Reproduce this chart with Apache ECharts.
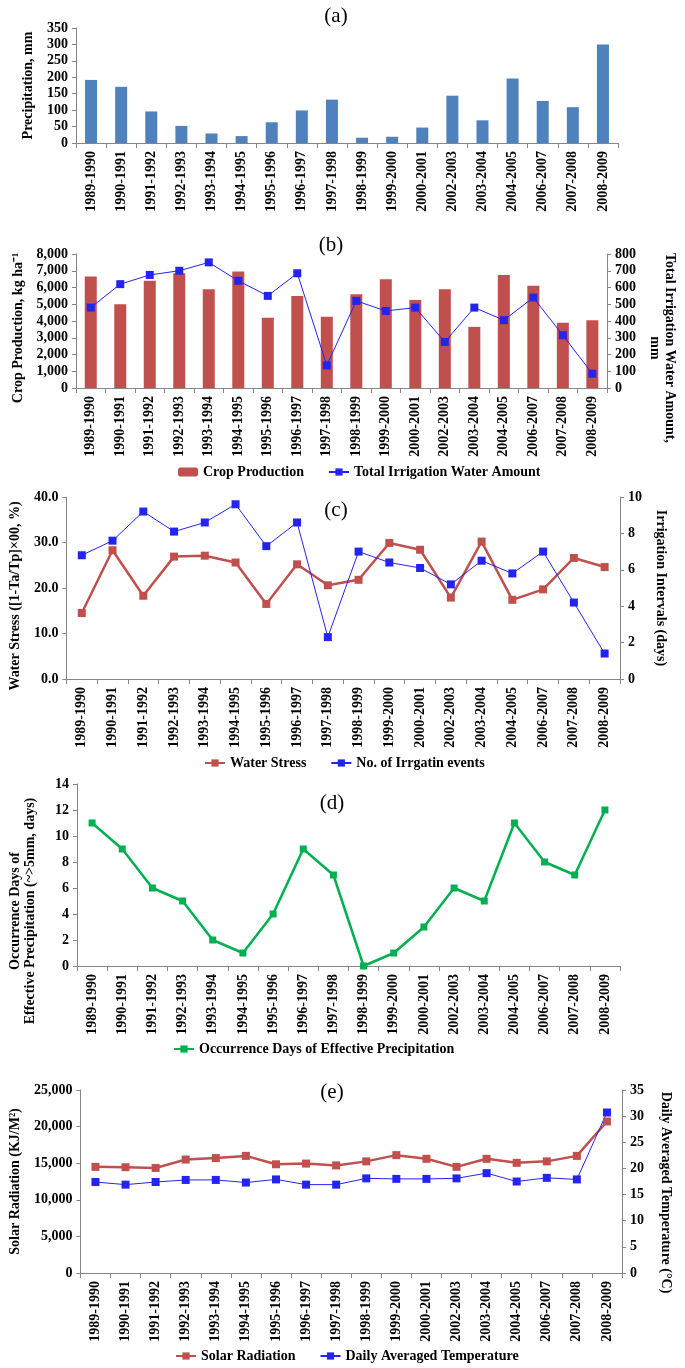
<!DOCTYPE html>
<html><head><meta charset="utf-8">
<script src="https://cdn.jsdelivr.net/npm/echarts@6/dist/echarts.min.js"></script>
<style>html,body{margin:0;padding:0;background:#fff}#c{width:685px;height:1368px}</style>
</head><body><div id="c"></div>
<script>
const categories = ['1989-1990','1990-1991','1991-1992','1992-1993','1993-1994','1994-1995','1995-1996','1996-1997','1997-1998','1998-1999','1999-2000','2000-2001','2002-2003','2003-2004','2004-2005','2006-2007','2007-2008','2008-2009'];
const precipitation = [192,171,96,52,29,21,63,99,132,16,19,47,144,69,196,128,109,300];
const cropProduction = [6650,5000,6400,6850,5900,6950,4200,5500,4250,5600,6500,5250,5900,3650,6750,6100,3900,4050];
const irrigationAmount = [480,620,675,700,750,640,550,685,135,520,460,480,275,480,405,540,315,85];
const waterStress = [14.5,28.3,18.3,26.9,27.1,25.6,16.5,25.2,20.6,21.8,29.9,28.4,17.9,30.2,17.4,19.7,26.6,24.6];
const irrigationEvents = [6.8,7.6,9.2,8.1,8.6,9.6,7.3,8.6,2.3,7.0,6.4,6.1,5.2,6.5,5.8,7.0,4.2,1.4];
const effectiveDays = [11,9,6,5,2,1,4,9,7,0,1,3,6,5,11,8,7,12];
const solarRadiation = [14500,14450,14350,15500,15700,16000,14850,14950,14700,15250,16100,15600,14500,15600,15050,15250,16000,20700];
const dailyTemp = [17.4,16.9,17.4,17.8,17.8,17.3,17.9,16.9,16.9,18.1,18.0,18.0,18.1,19.1,17.5,18.2,17.9,30.7];

const FONT = "'Liberation Serif','Times New Roman',serif";
const AX = '#868686';
const RED = '#C0504D', BLUE = '#2424F0', GREEN = '#00B050', BARBLUE = '#4F81BD';
const comma = v => String(v).replace(/\B(?=(\d{3})+(?!\d))/g, ',');

const grids = [
  {left:76, right:67, top:28, height:115},
  {left:76, right:62, top:254, height:134},
  {left:60, right:65, top:497, height:182},
  {left:72, right:65, top:784, height:182},
  {left:70, right:63, top:1090, height:183}
];

function xAx(i){
  return {type:'category', gridIndex:i, data:categories, boundaryGap:true,
    axisLine:{lineStyle:{color:AX,width:1}},
    axisTick:{show:true, alignWithLabel:false, length:5, lineStyle:{color:AX}},
    axisLabel:{rotate:90, interval:0, margin:8, fontFamily:FONT, fontWeight:'bold', fontSize:14, color:'#000'}};
}
function yAx(i, o){
  const pos = o.position || 'left';
  return Object.assign({type:'value', gridIndex:i, position:pos,
    splitLine:{show:false},
    axisLine:{show:true, lineStyle:{color:AX,width:1}},
    axisTick:{show:true, length:4, lineStyle:{color:AX}},
    nameLocation:'middle',
    nameRotate: pos==='left' ? 90 : -90,
    nameTextStyle:{fontFamily:FONT, fontWeight:'bold', fontSize:14, color:'#000', lineHeight:15, padding:o.pad || 0},
    axisLabel:{margin:8, fontFamily:FONT, fontWeight:'bold', fontSize:14, color:'#000', formatter:o.fmt}
  }, o.extra);
}

const titleStyle = {fontFamily:FONT, fontWeight:'normal', fontSize:21, color:'#000'};
function ttl(text, x, y){ return {text, left:x, top:y, textAlign:'center', textStyle:titleStyle}; }

const legendText = {fontFamily:FONT, fontWeight:'bold', fontSize:14, color:'#000'};
function leg(data, x, y){ return {data, left:x, top:y, itemGap:24, itemWidth:20, itemHeight:9, textStyle:legendText, padding:0}; }

const option = {
  animation:false,
  backgroundColor:'#fff',
  title:[ttl('(a)',331,1), ttl('(b)',326,230), ttl('(c)',331,495), ttl('(d)',327,788), ttl('(e)',327,1077)],
  legend:[
    leg(['Crop Production','Total Irrigation Water Amount'],178,465),
    leg(['Water Stress','No. of Irrgatin events'],204,756),
    leg(['Occurrence Days of Effective Precipitation'],173,1042),
    leg(['Solar Radiation','Daily Averaged Temperature'],175,1349)
  ],
  grid:grids,
  xAxis:[xAx(0),xAx(1),xAx(2),xAx(3),xAx(4)],
  yAxis:[
    yAx(0,{extra:{min:0,max:350,interval:50,name:'Precipitation, mm',nameGap:39}}),
    yAx(1,{fmt:comma,pad:[0,14,0,0],extra:{min:0,max:8000,interval:1000,name:'Crop Production, kg ha\u207B\u00B9',nameGap:49}}),
    yAx(1,{position:'right',pad:[0,0,0,54],extra:{min:0,max:800,interval:100,name:'Total Irrigation Water Amount,\nmm',nameGap:37}}),
    yAx(2,{fmt:v=>v.toFixed(1),pad:[0,16,0,0],extra:{min:0,max:40,interval:10,name:'Water Stress ([1-Ta/Tp]\u00D700, %)',nameGap:42}}),
    yAx(2,{position:'right',extra:{min:0,max:10,interval:2,name:'Irrigation Intervals (days)',nameGap:28}}),
    yAx(3,{pad:[0,72,0,0],extra:{min:0,max:14,interval:2,name:'Occurrence Days of\nEffective Precipitation (~>5mm, days)',nameGap:39}}),
    yAx(4,{fmt:comma,extra:{min:0,max:25000,interval:5000,name:'Solar Radiation (KJ/M\u00B2)',nameGap:52}}),
    yAx(4,{position:'right',pad:[0,0,0,22],extra:{min:0,max:35,interval:5,name:'Daily Averaged Temperature (\u00B0C)',nameGap:36}})
  ],
  series:[
    {name:'Precipitation', type:'bar', xAxisIndex:0, yAxisIndex:0, data:precipitation, barWidth:12, itemStyle:{color:BARBLUE}},
    {name:'Crop Production', type:'bar', xAxisIndex:1, yAxisIndex:1, data:cropProduction, barWidth:12, itemStyle:{color:RED}},
    {name:'Total Irrigation Water Amount', type:'line', xAxisIndex:1, yAxisIndex:2, data:irrigationAmount, symbol:'rect', symbolSize:8, lineStyle:{color:BLUE,width:1}, itemStyle:{color:BLUE}},
    {name:'Water Stress', type:'line', xAxisIndex:2, yAxisIndex:3, data:waterStress, symbol:'rect', symbolSize:8, lineStyle:{color:RED,width:2.5}, itemStyle:{color:RED}},
    {name:'No. of Irrgatin events', type:'line', xAxisIndex:2, yAxisIndex:4, data:irrigationEvents, symbol:'rect', symbolSize:8, lineStyle:{color:BLUE,width:1}, itemStyle:{color:BLUE}},
    {name:'Occurrence Days of Effective Precipitation', type:'line', xAxisIndex:3, yAxisIndex:5, data:effectiveDays, symbol:'rect', symbolSize:7, lineStyle:{color:GREEN,width:2.5}, itemStyle:{color:GREEN}},
    {name:'Solar Radiation', type:'line', xAxisIndex:4, yAxisIndex:6, data:solarRadiation, symbol:'rect', symbolSize:8, lineStyle:{color:RED,width:2.5}, itemStyle:{color:RED}},
    {name:'Daily Averaged Temperature', type:'line', xAxisIndex:4, yAxisIndex:7, data:dailyTemp, symbol:'rect', symbolSize:8, lineStyle:{color:BLUE,width:1}, itemStyle:{color:BLUE}}
  ]
};
const chart = echarts.init(document.getElementById('c'), null, {renderer:'canvas'});
chart.setOption(option);
</script></body></html>
